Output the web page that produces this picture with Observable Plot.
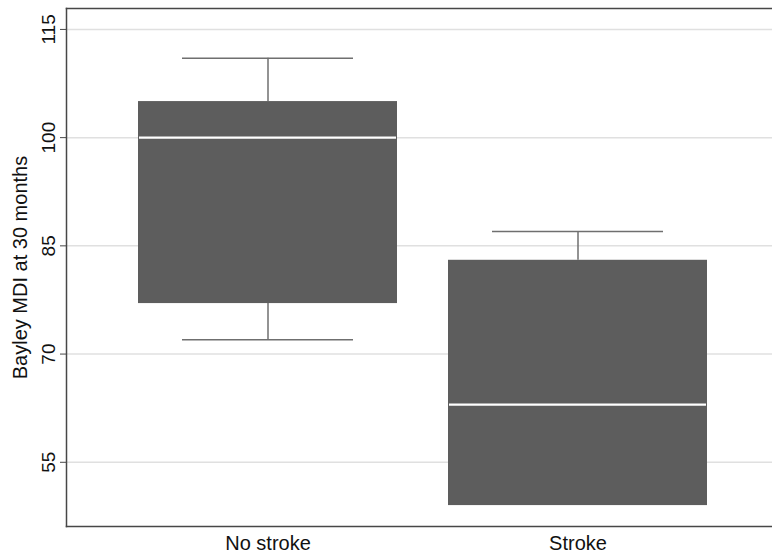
<!DOCTYPE html>
<html><head><meta charset="utf-8">
<script src="https://cdn.jsdelivr.net/npm/d3@7"></script>
<script src="https://cdn.jsdelivr.net/npm/@observablehq/plot@0.6"></script>
<style>html,body{margin:0;padding:0;background:#fff;overflow:hidden}</style>
</head><body><div id="chart"></div>
<script>
const groups = ["No stroke", "Stroke"];
const whiskerLow = [72, 49];
const q1 = [77, 49];
const median = [100, 63];
const q3 = [105, 83];
const whiskerHigh = [111, 87];
const yTicks = [55, 70, 85, 100, 115];
const yLabel = "Bayley MDI at 30 months";

const rows = groups.map((g, i) => ({group: g, lo: whiskerLow[i], q1: q1[i], med: median[i], q3: q3[i], hi: whiskerHigh[i]}));
const whiskerColor = "#6f6f6f";
const frameColor = "#474747";

const chart = Plot.plot({
  width: 772, height: 557,
  marginLeft: 66, marginRight: 0, marginTop: 8, marginBottom: 31,
  style: {fontFamily: "'Liberation Sans', Arial, Helvetica, sans-serif", background: "#fff", color: "#111"},
  x: {domain: groups, range: [66, 780], paddingInner: 0.163, paddingOuter: 0.231},
  y: {domain: [46.1, 117.9]},
  marks: [
    Plot.gridY(yTicks, {stroke: "#e0e0e0", strokeOpacity: 1, strokeWidth: 1.5}),
    Plot.ruleX(rows, {x: "group", y1: "lo", y2: "q1", stroke: whiskerColor, strokeWidth: 1.5}),
    Plot.ruleX(rows, {x: "group", y1: "q3", y2: "hi", stroke: whiskerColor, strokeWidth: 1.5}),
    Plot.tickY(rows.filter(d => d.lo < d.q1), {x: "group", y: "lo", inset: 44, stroke: whiskerColor, strokeWidth: 1.5}),
    Plot.tickY(rows.filter(d => d.hi > d.q3), {x: "group", y: "hi", inset: 44, stroke: whiskerColor, strokeWidth: 1.5}),
    Plot.barY(rows, {x: "group", y1: "q1", y2: "q3", fill: "#5d5d5d"}),
    Plot.tickY(rows, {x: "group", y: "med", stroke: "#ffffff", strokeWidth: 2.2, inset: 1}),
    Plot.frame({anchor: "left", stroke: frameColor, strokeWidth: 1.5}),
    Plot.frame({anchor: "top", stroke: frameColor, strokeWidth: 1.5}),
    Plot.frame({anchor: "bottom", stroke: frameColor, strokeWidth: 1.5}),
    Plot.axisY(yTicks, {tickSize: 6, tickRotate: -90, tickPadding: 6, fontSize: 19, stroke: frameColor, label: null}),
    Plot.axisX({tickSize: 0, tickPadding: 9, fontSize: 20, label: null}),
    Plot.text([yLabel], {frameAnchor: "left", textAnchor: "middle", text: d => d, rotate: -90, dx: -46, fontSize: 20, fill: "#111"})
  ]
});
document.getElementById("chart").appendChild(chart);
</script>
</body></html>
